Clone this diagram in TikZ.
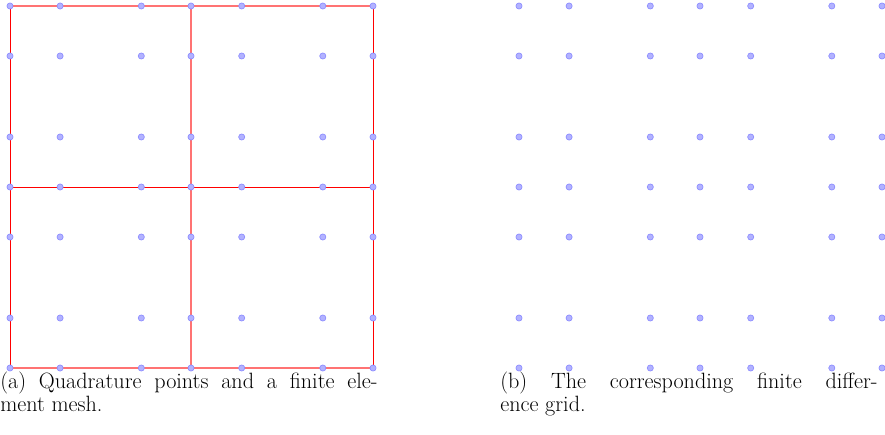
\documentclass[tikz,border=0pt]{standalone}
\begin{document}
\begin{tikzpicture}[x=0.75pt,y=-0.75pt,
  dot/.style={circle,inner sep=0pt,minimum size=4.6pt,fill=blue!30,draw=blue!45,line width=0.5pt},
  meshline/.style={draw=red,line width=0.75pt},
  meshlight/.style={draw=red!55,line width=1.1pt},
  capt/.style={anchor=north west,text width=283pt,align=justify,inner sep=0pt,font=\fontsize{16.6}{14.4}\selectfont}]
\useasboundingbox (0,0) rectangle (885,435);
\def\xs{10,60.1,141.3,191,241.7,322.8,373}
\def\ys{6,56,137,187,237,318,368}
\foreach \x [count=\i] in \xs {
  \foreach \y [count=\j] in \ys {
    \coordinate (a\i\j) at (\x,\y);
    \coordinate (b\i\j) at (\x+509,\y);
  }
}
% mesh lines
\draw[meshlight] (a11) -- (a71);
\draw[meshlight] (a17) -- (a77);
\draw[meshlight] (a41) -- (a47);
\draw[meshline] (a11) -- (a17);
\draw[meshline] (a71) -- (a77);
\draw[meshline] (a14) -- (a74);
% points
\foreach \i in {1,...,7} {
  \foreach \j in {1,...,7} {
    \node[dot] (pa\i\j) at (a\i\j) {};
    \node[dot] (pb\i\j) at (b\i\j) {};
  }
}
\node[capt] (capa) at (0,372) {(a) Quadrature points and a finite ele-\linebreak ment mesh.};
\node[capt] (capb) at (500,372) {(b) The corresponding finite differ-\linebreak ence grid.};
\end{tikzpicture}
\end{document}
